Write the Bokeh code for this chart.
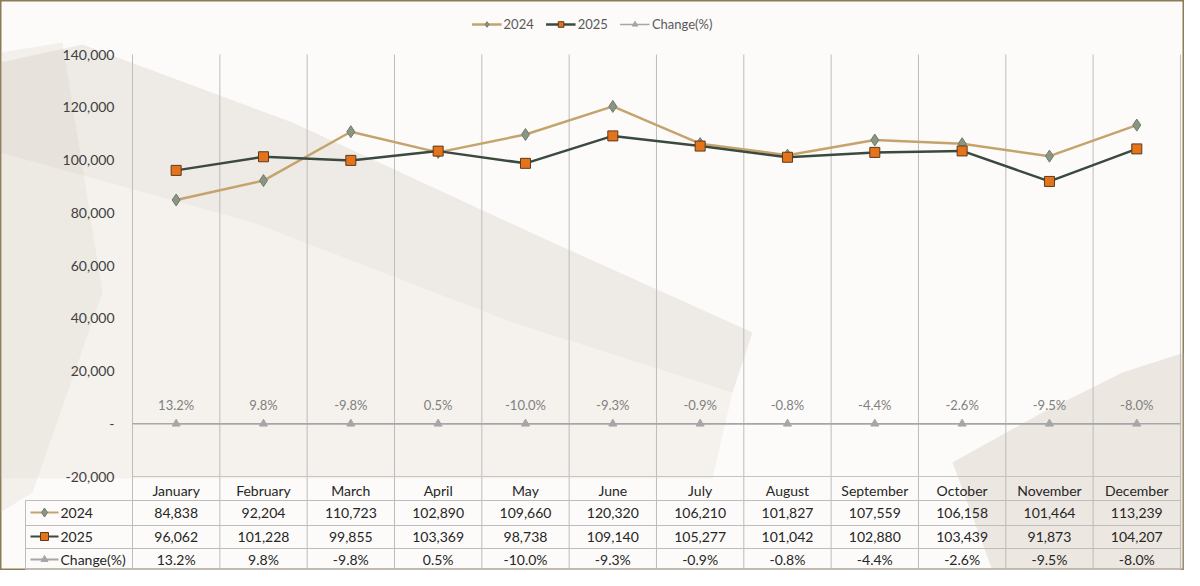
from bokeh.plotting import figure
from bokeh.models import (Range1d, FixedTicker, CustomJSTickFormatter, Legend,
                          LegendItem)
from bokeh.embed import file_html
from bokeh.resources import INLINE
from bokeh.core.properties import value

# ---------------- data ----------------
months = ["January", "February", "March", "April", "May", "June", "July",
          "August", "September", "October", "November", "December"]
sales_2024 = [84838, 92204, 110723, 102890, 109660, 120320, 106210,
              101827, 107559, 106158, 101464, 113239]
sales_2025 = [96062, 101228, 99855, 103369, 98738, 109140, 105277,
              101042, 102880, 103439, 91873, 104207]
change_pct = [13.2, 9.8, -9.8, 0.5, -10.0, -9.3, -0.9, -0.8, -4.4, -2.6, -9.5, -8.0]
series_names = ["2024", "2025", "Change(%)"]
y_ticks = [-20000, 0, 20000, 40000, 60000, 80000, 100000, 120000, 140000]

# ---------------- geometry ----------------
W, H = 1184, 570
LEFT_PX = 132.0          # x = 0 boundary, px from figure left
CAT_PX = 87.33           # px per month
TOP_PX = 54.0            # 140,000 px from figure top
Y_TOP = 140000
Y_SCALE = 422.0 / 160000.0

def dx(page_x):
    return (page_x - 8 - LEFT_PX) / CAT_PX

def dy(page_y):
    return Y_TOP - (page_y - 8 - TOP_PX) / Y_SCALE

FONT = value("Lato")
n = len(months)
xc = [i + 0.5 for i in range(n)]

p = figure(width=W, height=H, output_backend="svg", toolbar_location=None,
           x_range=Range1d(-LEFT_PX / CAT_PX, (W - LEFT_PX) / CAT_PX),
           y_range=Range1d(Y_TOP - (H - TOP_PX) / Y_SCALE, Y_TOP + TOP_PX / Y_SCALE),
           min_border=0, min_border_left=0, min_border_right=0,
           min_border_top=0, min_border_bottom=0)
p.background_fill_color = "#fcfbf9"
p.border_fill_color = "#fcfbf9"
p.outline_line_color = "#8c7b57"
p.outline_line_width = 2
p.xgrid.visible = False
p.ygrid.visible = False

# ---------------- faded background decoration ----------------
bg_shapes = [
    ([8, 90, 300, 560, 760, 740, 520, 260, 8], [70, 52, 130, 250, 340, 400, 330, 230, 160], "#bba999", 0.20),
    ([8, 260, 520, 740, 720, 300, 8], [160, 230, 330, 400, 486, 486, 486], "#d3c6b7", 0.16),
    ([8, 70, 110, 40, 8], [60, 50, 300, 500, 520], "#cfc2b4", 0.18),
    ([960, 1050, 1130, 1192, 1192, 1000], [470, 420, 380, 360, 578, 578], "#c3b3a0", 0.28),
]
p.patches(xs=[[dx(v) for v in s[0]] for s in bg_shapes],
          ys=[[dy(v) for v in s[1]] for s in bg_shapes],
          fill_color=[s[2] for s in bg_shapes], fill_alpha=[s[3] for s in bg_shapes],
          line_color=None)

# ---------------- grid / table lines ----------------
grid_col = "#bdbdbd"
row_lines_px = [508, 533, 556, 577]
table_left = dx(33)
p.segment(x0=list(range(n + 1)), y0=[Y_TOP] * (n + 1),
          x1=list(range(n + 1)), y1=[dy(577)] * (n + 1),
          line_color=grid_col, line_width=1)
p.segment(x0=[table_left], y0=[dy(508)], x1=[table_left], y1=[dy(577)],
          line_color=grid_col, line_width=1)
p.segment(x0=[0, 0], y0=[y_ticks[0], 0], x1=[n, n], y1=[y_ticks[0], 0],
          line_color=["#c4c4c4", "#a8a8a8"], line_width=[1, 1.3])
p.segment(x0=[table_left] * len(row_lines_px), y0=[dy(v) for v in row_lines_px],
          x1=[n] * len(row_lines_px), y1=[dy(v) for v in row_lines_px],
          line_color=grid_col, line_width=1)

# ---------------- series ----------------
c24_line, c24_mark, c24_edge = "#c4a46c", "#8b9583", "#6f7a68"
c25_line, c25_mark, c25_edge = "#3b4a3e", "#e5731c", "#5a3b1c"
cch = "#a6a6a6"

change_y = [c / 100.0 for c in change_pct]

l24 = p.line(xc, sales_2024, line_color=c24_line, line_width=2.5)
s24 = p.scatter(xc, sales_2024, marker="diamond", size=12,
                fill_color=c24_mark, line_color=c24_edge, line_width=1)
l25 = p.line(xc, sales_2025, line_color=c25_line, line_width=2.5)
s25 = p.scatter(xc, sales_2025, marker="square", size=10,
                fill_color=c25_mark, line_color=c25_edge, line_width=1)
lch = p.line(xc, change_y, line_color=cch, line_width=1.5)
sch = p.scatter(xc, change_y, marker="triangle", size=8,
                fill_color=cch, line_color=cch)

p.text(x=xc, y=change_y, text=[f"{c:.1f}%" for c in change_pct],
       y_offset=-19, text_align="center", text_baseline="middle",
       text_font=FONT, text_font_size="13px", text_color="#808080")

# ---------------- axes ----------------
p.yaxis.fixed_location = 0
p.yaxis.ticker = FixedTicker(ticks=y_ticks)
p.yaxis.formatter = CustomJSTickFormatter(
    code="return tick == 0 ? '-' : tick.toLocaleString('en-US');")
p.yaxis.axis_line_color = None
p.yaxis.major_tick_line_color = None
p.yaxis.minor_tick_line_color = None
p.yaxis.major_tick_out = 0
p.yaxis.major_label_standoff = 18
p.yaxis.major_label_text_font = "Lato"
p.yaxis.major_label_text_font_size = "14px"
p.yaxis.major_label_text_color = "#404040"

p.xaxis.fixed_location = y_ticks[0]
p.xaxis.ticker = FixedTicker(ticks=xc)
p.xaxis.formatter = CustomJSTickFormatter(args=dict(months=months),
                                          code="return months[Math.floor(tick)];")
p.xaxis.axis_line_color = None
p.xaxis.major_tick_line_color = None
p.xaxis.minor_tick_line_color = None
p.xaxis.major_tick_out = 0
p.xaxis.major_label_standoff = 5
p.xaxis.major_label_text_font = "Lato"
p.xaxis.major_label_text_font_size = "14px"
p.xaxis.major_label_text_color = "#262626"

# ---------------- data table rows ----------------
row_centers = [dy(520), dy(544), dy(567)]
table_rows = [
    [f"{v:,}" for v in sales_2024],
    [f"{v:,}" for v in sales_2025],
    [f"{c:.1f}%" for c in change_pct],
]
for r, texts in enumerate(table_rows):
    p.text(x=xc, y=[row_centers[r]] * n, text=texts, text_align="center",
           text_baseline="middle", text_font=FONT, text_font_size="14px",
           text_color="#262626")

key_x0, key_x1, key_xm = dx(38), dx(66), dx(52)
p.segment(x0=[key_x0] * 3, y0=row_centers, x1=[key_x1] * 3, y1=row_centers,
          line_color=[c24_line, c25_line, cch], line_width=2)
p.scatter(x=[key_xm] * 3, y=row_centers, marker=["diamond", "square", "triangle"],
          size=[9, 8, 7], fill_color=[c24_mark, c25_mark, cch],
          line_color=[c24_edge, c25_edge, cch])
p.text(x=[dx(68)] * 3, y=row_centers, text=series_names, text_align="left",
       text_baseline="middle", text_font=FONT, text_font_size="14px",
       text_color="#262626")

# ---------------- legend ----------------
legend = Legend(items=[
    LegendItem(label=series_names[0], renderers=[l24, s24]),
    LegendItem(label=series_names[1], renderers=[l25, s25]),
    LegendItem(label=series_names[2], renderers=[lch, sch]),
], orientation="horizontal", location="top_center")
legend.background_fill_alpha = 0
legend.border_line_alpha = 0
legend.label_text_font = "Lato"
legend.label_text_font_size = "13px"
legend.label_text_color = "#595959"
legend.glyph_width = 30
legend.glyph_height = 14
legend.spacing = 12
legend.margin = 12
legend.padding = 4
legend.label_standoff = 2
p.add_layout(legend)

open("out.html", "w").write(file_html(p, INLINE))
